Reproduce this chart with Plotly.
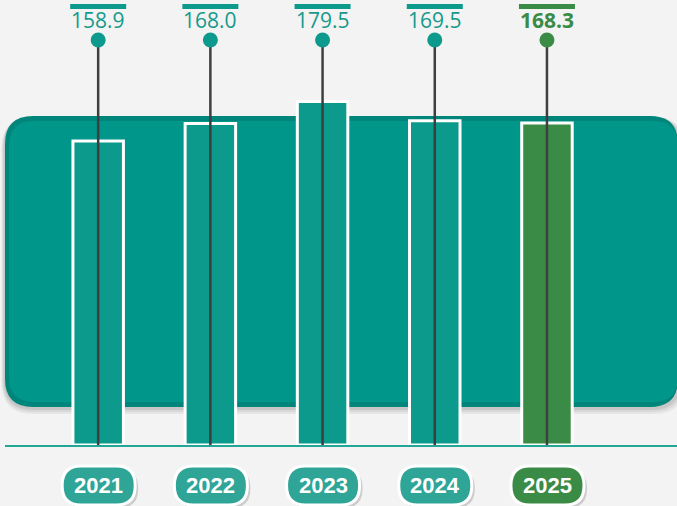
import plotly.graph_objects as go

# Data
years = ["2021", "2022", "2023", "2024", "2025"]
values = [158.9, 168.0, 179.5, 169.5, 168.3]
highlight_year = "2025"

# Canvas and axis geometry
W, H = 677, 506
X_RANGE = [-0.875, 5.159]
Y_RANGE = [-31.9, 232.6]

TEAL = "#0b9a8c"
TEAL_PANEL = "#00968a"
TEAL_PANEL_EDGE = "#00857a"
TEAL_TEXT = "#16998b"
TEAL_PILL = "#2fa597"
GREEN = "#3a8b45"
STEM = "#3e3e3e"
BG = "#f3f3f3"

idx = list(range(len(years)))
is_hi = [y == highlight_year for y in years]


def px_of_x(v):
    return (v - X_RANGE[0]) / (X_RANGE[1] - X_RANGE[0]) * W


def py_to_data(py):
    return Y_RANGE[1] - py / H * (Y_RANGE[1] - Y_RANGE[0])


def PX(x):
    return x / W


def PY(y):
    return 1 - y / H


def rounded(x0, y0, x1, y1, r):
    """Rounded rectangle path in paper units from pixel bounds (y downward)."""
    return (
        f"M {PX(x0 + r)},{PY(y0)} L {PX(x1 - r)},{PY(y0)} "
        f"Q {PX(x1)},{PY(y0)} {PX(x1)},{PY(y0 + r)} "
        f"L {PX(x1)},{PY(y1 - r)} Q {PX(x1)},{PY(y1)} {PX(x1 - r)},{PY(y1)} "
        f"L {PX(x0 + r)},{PY(y1)} Q {PX(x0)},{PY(y1)} {PX(x0)},{PY(y1 - r)} "
        f"L {PX(x0)},{PY(y0 + r)} Q {PX(x0)},{PY(y0)} {PX(x0 + r)},{PY(y0)} Z"
    )


shapes = []

# Panel shadow
for k, op in [(7, 0.05), (5, 0.06), (3, 0.08)]:
    shapes.append(dict(type="path", xref="paper", yref="paper", layer="below",
                       path=rounded(5 - k / 2, 116 + 1, 678 + k, 407 + k, 28 + k / 2),
                       fillcolor="#000000", opacity=op, line=dict(width=0)))
# Panel body with a darker rim
shapes.append(dict(type="path", xref="paper", yref="paper", layer="below",
                   path=rounded(5, 116, 678, 407, 28),
                   fillcolor=TEAL_PANEL_EDGE, line=dict(width=0)))
shapes.append(dict(type="path", xref="paper", yref="paper", layer="below",
                   path=rounded(9, 121, 678, 402, 25),
                   fillcolor=TEAL_PANEL, line=dict(width=0)))

# Baseline
shapes.append(dict(type="line", xref="paper", yref="paper",
                   x0=PX(5), x1=PX(677), y0=PY(446), y1=PY(446),
                   line=dict(color="#22a797", width=2)))

annotations = []
for i, (yr, v, hi) in enumerate(zip(years, values, is_hi)):
    cx = px_of_x(i)
    # small bar above the value label
    shapes.append(dict(type="rect", xref="paper", yref="paper",
                       x0=PX(cx - 28), x1=PX(cx + 28), y0=PY(9), y1=PY(4),
                       fillcolor=GREEN if hi else TEAL, line=dict(width=0)))
    # value label
    annotations.append(dict(
        x=i, xref="x", y=PY(20), yref="paper", showarrow=False,
        text=f"<b>{v:.1f}</b>" if hi else f"{v:.1f}",
        font=dict(family="Open Sans", size=21, color=GREEN if hi else TEAL_TEXT),
        xanchor="center", yanchor="middle"))
    # year pill: shadow, body with white border
    shapes.append(dict(type="path", xref="paper", yref="paper",
                       path=rounded(cx - 36 + 3, 466 + 3, cx + 37 + 3, 505 + 3, 19),
                       fillcolor="#000000", opacity=0.16, line=dict(width=0)))
    shapes.append(dict(type="path", xref="paper", yref="paper",
                       path=rounded(cx - 36, 466, cx + 37, 505, 19),
                       fillcolor=GREEN if hi else TEAL_PILL,
                       line=dict(color="white", width=3)))
    annotations.append(dict(
        x=PX(cx + 0.5), xref="paper", y=PY(485.5), yref="paper", showarrow=False,
        text=f"<b>{yr}</b>",
        font=dict(family="Liberation Sans", size=22, color="white"),
        xanchor="center", yanchor="middle"))

dot_level = py_to_data(40)

fig = go.Figure()
fig.add_trace(go.Bar(
    x=idx, y=values, width=0.45,
    marker=dict(color=[GREEN if h else TEAL for h in is_hi],
                line=dict(color="white", width=3)),
    hoverinfo="skip"))

stem_x, stem_y = [], []
for i in idx:
    stem_x += [i, i, None]
    stem_y += [0, dot_level, None]
fig.add_trace(go.Scatter(x=stem_x, y=stem_y, mode="lines",
                         line=dict(color=STEM, width=2.5), hoverinfo="skip"))
fig.add_trace(go.Scatter(x=idx, y=[dot_level] * len(idx), mode="markers",
                         marker=dict(size=15, color=[GREEN if h else TEAL for h in is_hi]),
                         hoverinfo="skip"))

fig.update_layout(
    width=W, height=H, margin=dict(l=0, r=0, t=0, b=0),
    paper_bgcolor=BG, plot_bgcolor="rgba(0,0,0,0)",
    showlegend=False, shapes=shapes, annotations=annotations,
    xaxis=dict(range=X_RANGE, visible=False, fixedrange=True),
    yaxis=dict(range=Y_RANGE, visible=False, fixedrange=True),
)

fig.write_html("out.html", config={"displayModeBar": False})
